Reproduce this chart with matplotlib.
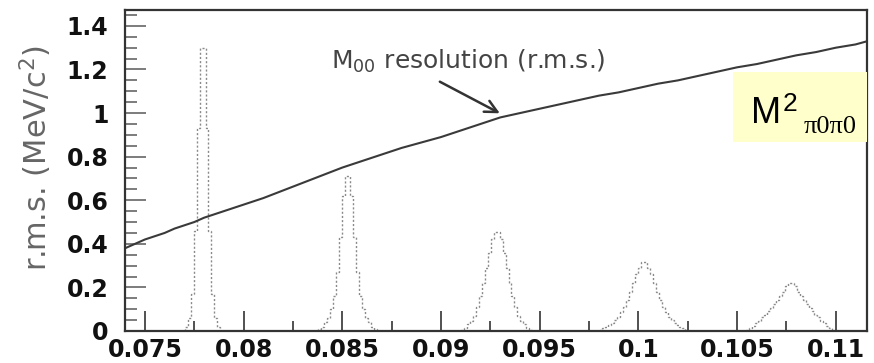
# -*- coding: utf-8 -*-
import matplotlib.pyplot as plt
import numpy as np

# M00 resolution (r.m.s.) curve
res_x = [0.0740, 0.0745, 0.0750, 0.0755, 0.0760, 0.0765, 0.0770, 0.0775, 0.0780,
         0.0785, 0.0790, 0.0800, 0.0810, 0.0820, 0.0830, 0.0840, 0.0850, 0.0860,
         0.0870, 0.0880, 0.0890, 0.0900, 0.0910, 0.0920, 0.0930, 0.0940, 0.0950,
         0.0960, 0.0970, 0.0980, 0.0990, 0.1000, 0.1010, 0.1020, 0.1030, 0.1040,
         0.1050, 0.1060, 0.1070, 0.1080, 0.1090, 0.1100, 0.1110, 0.1116]
res_y = [0.38, 0.40, 0.42, 0.435, 0.45, 0.47, 0.485, 0.50, 0.52,
         0.535, 0.55, 0.58, 0.61, 0.645, 0.68, 0.715, 0.75, 0.78,
         0.81, 0.84, 0.865, 0.89, 0.92, 0.95, 0.98, 1.00, 1.02,
         1.04, 1.06, 1.08, 1.095, 1.115, 1.135, 1.15, 1.17, 1.19,
         1.21, 1.225, 1.245, 1.265, 1.28, 1.30, 1.315, 1.33]

# the five dotted peaks (histograms, bin width 0.00015)
bin_w = 0.00015
peak1_start = 0.07702
peak1_h = [0.02, 0.06, 0.17, 0.46, 0.93, 1.30, 1.30, 0.93, 0.46, 0.17, 0.06, 0.02]
peak2_start = 0.08376
peak2_h = [0.01, 0.02, 0.04, 0.06, 0.10, 0.16, 0.27, 0.43, 0.62, 0.71,
           0.71, 0.62, 0.43, 0.27, 0.16, 0.10, 0.06, 0.04, 0.02, 0.01]
peak3_start = 0.09102
peak3_h = [0.005, 0.015, 0.03, 0.045, 0.07, 0.11, 0.16, 0.22, 0.29, 0.36, 0.42, 0.455,
           0.455, 0.42, 0.36, 0.29, 0.22, 0.16, 0.11, 0.07, 0.045, 0.03, 0.015, 0.005]
peak4_start = 0.09803
peak4_h = [0.006, 0.012, 0.02, 0.028, 0.038, 0.05, 0.065, 0.085, 0.11, 0.14, 0.18,
           0.22, 0.26, 0.29, 0.315,
           0.315, 0.29, 0.26, 0.22, 0.18, 0.14, 0.11, 0.085, 0.065, 0.05, 0.038,
           0.028, 0.02, 0.012, 0.006]
peak5_start = 0.10547
peak5_h = [0.006, 0.014, 0.024, 0.035, 0.048, 0.062, 0.075, 0.09, 0.105, 0.122,
           0.14, 0.16, 0.18, 0.205, 0.22,
           0.22, 0.205, 0.18, 0.16, 0.14, 0.122, 0.105, 0.09, 0.075, 0.062,
           0.048, 0.035, 0.024, 0.014, 0.006]

x_ticks = [0.075, 0.08, 0.085, 0.09, 0.095, 0.1, 0.105, 0.11]
x_labels = ['0.075', '0.08', '0.085', '0.09', '0.095', '0.1', '0.105', '0.11']
y_ticks = [0, 0.2, 0.4, 0.6, 0.8, 1.0, 1.2, 1.4]
y_labels = ['0', '0.2', '0.4', '0.6', '0.8', '1', '1.2', '1.4']

W, H = 874, 363
fig = plt.figure(figsize=(W / 100, H / 100), dpi=100)
ax = fig.add_axes([125 / W, 1 - 331 / H, (867 - 125) / W, (331 - 10) / H])

peaks = [(peak1_start, peak1_h), (peak2_start, peak2_h), (peak3_start, peak3_h),
         (peak4_start, peak4_h), (peak5_start, peak5_h)]
for start, h in peaks:
    edges = start + bin_w * np.arange(len(h) + 1)
    ax.stairs(h, edges, baseline=0, color='#8a8a8a', lw=1.0,
              linestyle=(0, (1.5, 1.5)))

ax.plot(res_x, res_y, color='#3a3a3a', lw=1.5)

ax.set_xlim(0.07399, 0.11158)
ax.set_ylim(0, 1.473)

ax.set_xticks(x_ticks)
ax.set_xticklabels(x_labels)
ax.set_xticks(np.arange(0.0775, 0.111, 0.005), minor=True)
ax.set_yticks(y_ticks)
ax.set_yticklabels(y_labels)
ax.set_yticks(np.arange(0.05, 1.46, 0.05), minor=True)

ax.tick_params(axis='x', which='major', direction='in', length=14.4, width=1.2,
               color='#333333', pad=5, labelsize=17)
ax.tick_params(axis='x', which='minor', direction='in', length=7.2, width=1.2,
               color='#333333')
ax.tick_params(axis='y', which='major', direction='in', length=15, width=1.2,
               color='#666666', pad=12, labelsize=17)
ax.tick_params(axis='y', which='minor', direction='in', length=8.6, width=1.2,
               color='#666666')
for lab in ax.get_xticklabels() + ax.get_yticklabels():
    lab.set_fontweight('bold')
    lab.set_color('#111111')

for sp in ax.spines.values():
    sp.set_color('#333333')
    sp.set_linewidth(1.6)

fig.text(36 / W, 1 - 158 / H, r'r.m.s. (MeV/c$^2$)', rotation=90, ha='center',
         va='center', fontsize=22, color='#666666')

ax.annotate(r'M$_{00}$ resolution (r.m.s.)', xy=(0.09298, 0.999),
            xytext=(0.09136, 1.235), ha='center', va='center', fontsize=18,
            color='#444444')
ax.annotate('', xy=(0.09298, 0.999), xytext=(0.08994, 1.144),
            arrowprops=dict(arrowstyle='->', lw=1.8, color='#333333',
                            mutation_scale=22, shrinkA=0, shrinkB=0))

# yellow label box
fig.patches.append(plt.Rectangle((733 / W, 1 - 142 / H), (867 - 733) / W, 70 / H,
                                 transform=fig.transFigure, facecolor='#ffffcc',
                                 edgecolor='none', zorder=5))
fig.text(751 / W, 1 - 123 / H, 'M', fontsize=26, family='Liberation Sans',
         ha='left', va='baseline', zorder=6)
fig.text(783 / W, 1 - 111 / H, '2', fontsize=19, family='Liberation Sans',
         ha='left', va='baseline', zorder=6)
fig.text(804 / W, 1 - 133 / H, 'π0π0', fontsize=19, family='Liberation Serif',
         ha='left', va='baseline', zorder=6)

fig.savefig('out.png', dpi=100)
